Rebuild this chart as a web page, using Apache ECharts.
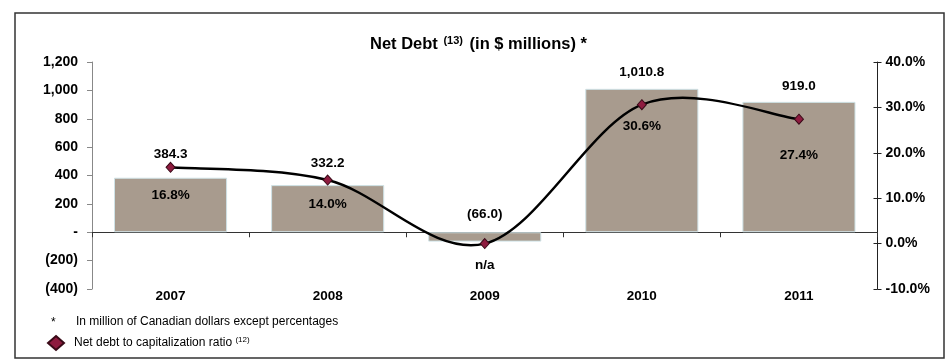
<!DOCTYPE html>
<html>
<head>
<meta charset="utf-8">
<script src="https://cdn.jsdelivr.net/npm/echarts@6/dist/echarts.min.js"></script>
<style>
  html, body { margin: 0; padding: 0; background: #fff; }
  #chart { width: 947px; height: 359px; }
</style>
</head>
<body>
<div id="chart"></div>
<script>
// Fiscal years on the category axis
var years = ['2007', '2008', '2009', '2010', '2011'];
// Net debt, $ millions
var netDebt = [384.3, 332.2, -66.0, 1010.8, 919.0];
// Net debt to capitalization ratio, % (2009 not applicable, shown at 0)
var ratio = [16.8, 14.0, 0, 30.6, 27.4];
var ratioLabels = ['16.8%', '14.0%', 'n/a', '30.6%', '27.4%'];
// Label spacing for each year
var debtLabelGap = [16, 15, 11, 10, 9];
var ratioLabelGap = [15, 12, 9, 9, 24];

var FONT = '"Liberation Sans", Arial, sans-serif';

function fmtDebt(v) {
  if (v === 0) return '-';
  var s = Math.abs(v).toLocaleString('en-US', { maximumFractionDigits: 1 });
  return v < 0 ? '(' + s + ')' : s;
}
function fmtDebtLabel(v) {
  var s = Math.abs(v).toLocaleString('en-US', { minimumFractionDigits: 1, maximumFractionDigits: 1 });
  return v < 0 ? '(' + s + ')' : s;
}

// Smooth spline (Catmull-Rom as cubic Bezier) through the ratio points,
// positioned with the chart's own coordinate mapping.
function renderRatioCurve(params, api) {
  if (params.dataIndex !== 0) return null;
  var pts = ratio.map(function (v, i) { return api.coord([i, v]); });
  var n = pts.length;
  var segs = [];
  for (var i = 0; i < n - 1; i++) {
    var p0 = pts[Math.max(i - 1, 0)];
    var p1 = pts[i];
    var p2 = pts[i + 1];
    var p3 = pts[Math.min(i + 2, n - 1)];
    segs.push({
      type: 'bezierCurve',
      shape: {
        x1: p1[0], y1: p1[1],
        cpx1: p1[0] + (p2[0] - p0[0]) / 6, cpy1: p1[1] + (p2[1] - p0[1]) / 6,
        cpx2: p2[0] - (p3[0] - p1[0]) / 6, cpy2: p2[1] - (p3[1] - p1[1]) / 6,
        x2: p2[0], y2: p2[1]
      },
      style: { stroke: '#000', lineWidth: 2.5, fill: null }
    });
  }
  return { type: 'group', children: segs };
}

var chart = echarts.init(document.getElementById('chart'), null, { renderer: 'canvas' });

chart.setOption({
  animation: false,
  backgroundColor: '#ffffff',
  textStyle: { fontFamily: FONT },
  title: {
    left: 370,
    top: 35,
    padding: 0,
    text: 'Net Debt {sup|(13)} (in $ millions) *',
    textStyle: {
      fontFamily: FONT, fontSize: 16.5, fontWeight: 'bold', color: '#000',
      rich: {
        sup: { fontFamily: FONT, fontSize: 11, fontWeight: 'bold', color: '#000', verticalAlign: 'top', padding: [0, 2, 7, 1] }
      }
    }
  },
  legend: {
    left: 47,
    top: 335,
    padding: 0,
    orient: 'horizontal',
    data: [{ name: 'ratio', icon: 'diamond' }],
    itemWidth: 16,
    itemHeight: 14,
    formatter: function () { return 'Net debt to capitalization ratio {sup|(12)}'; },
    textStyle: {
      fontFamily: FONT, fontSize: 12, color: '#000', padding: [0, 0, 0, 5],
      rich: { sup: { fontFamily: FONT, fontSize: 8, color: '#000', padding: [0, 0, 7, 0] } }
    }
  },
  graphic: [
    {
      type: 'rect', z: 100, silent: true,
      shape: { x: 15, y: 13, width: 929, height: 345 },
      style: { fill: 'none', stroke: '#333', lineWidth: 1.5 }
    },
    { type: 'text', x: 51, y: 317, style: { text: '*', fontFamily: FONT, fontSize: 12, fill: '#000' } },
    { type: 'text', x: 76, y: 316, style: { text: 'In million of Canadian dollars except percentages', fontFamily: FONT, fontSize: 12, fill: '#000' } }
  ],
  grid: { left: 92, right: 69.5, top: 62, bottom: 70, containLabel: false },
  xAxis: {
    type: 'category',
    data: years,
    boundaryGap: true,
    axisLine: { onZero: true, lineStyle: { color: '#333', width: 1 } },
    axisTick: { show: true, length: 5, interval: 0, lineStyle: { color: '#333' } },
    axisLabel: { margin: 0, fontFamily: FONT, fontSize: 13.5, fontWeight: 'bold', color: '#000' },
    splitLine: { show: false }
  },
  yAxis: [
    {
      type: 'value',
      min: -400, max: 1200, interval: 200,
      position: 'left',
      axisLine: { show: true, lineStyle: { color: '#888', width: 1 } },
      axisTick: { show: true, length: 5, lineStyle: { color: '#888' } },
      axisLabel: { margin: 14, fontFamily: FONT, fontSize: 14, fontWeight: 'bold', color: '#000', formatter: fmtDebt },
      splitLine: { show: false }
    },
    {
      type: 'value',
      min: -10, max: 40, interval: 10,
      position: 'right',
      axisLine: { show: true, lineStyle: { color: '#222', width: 1 } },
      axisTick: { show: true, length: 4, lineStyle: { color: '#222' } },
      axisLabel: { margin: 8, fontFamily: FONT, fontSize: 14, fontWeight: 'bold', color: '#000',
        formatter: function (v) { return v.toFixed(1) + '%'; } },
      splitLine: { show: false }
    },
    {
      // inner half of the crossing ticks on the percentage axis
      type: 'value',
      min: -10, max: 40, interval: 10,
      position: 'right',
      offset: 0,
      axisLine: { show: false },
      axisTick: { show: true, inside: true, length: 4, lineStyle: { color: '#222' } },
      axisLabel: { show: false },
      splitLine: { show: false }
    }
  ],
  series: [
    {
      name: 'debt',
      type: 'bar',
      yAxisIndex: 0,
      barWidth: '72%',
      data: netDebt.map(function (v, i) {
        return {
          value: v,
          label: { distance: debtLabelGap[i] }
        };
      }),
      itemStyle: { color: '#a89b8e', borderColor: '#cfe2e6', borderWidth: 1 },
      label: {
        show: true, position: 'top',
        fontFamily: FONT, fontSize: 13.5, fontWeight: 'bold', color: '#000',
        formatter: function (p) { return fmtDebtLabel(p.value); }
      },
      z: 2
    },
    {
      name: 'ratioCurve',
      type: 'custom',
      yAxisIndex: 1,
      renderItem: renderRatioCurve,
      data: ratio.map(function (v, i) { return [i, v]; }),
      silent: true,
      z: 3
    },
    {
      name: 'ratio',
      type: 'line',
      yAxisIndex: 1,
      symbol: 'diamond',
      symbolSize: [9, 10],
      showSymbol: true,
      data: ratio.map(function (v, i) {
        return { value: v, label: { distance: ratioLabelGap[i] } };
      }),
      lineStyle: { color: '#000', width: 0, opacity: 0 },
      itemStyle: { color: '#8e1b3f', borderColor: '#3a0a18', borderWidth: 1 },
      label: {
        show: true, position: 'bottom',
        fontFamily: FONT, fontSize: 13.5, fontWeight: 'bold', color: '#000',
        formatter: function (p) { return ratioLabels[p.dataIndex]; }
      },
      z: 4
    }
  ]
});
</script>
</body>
</html>
